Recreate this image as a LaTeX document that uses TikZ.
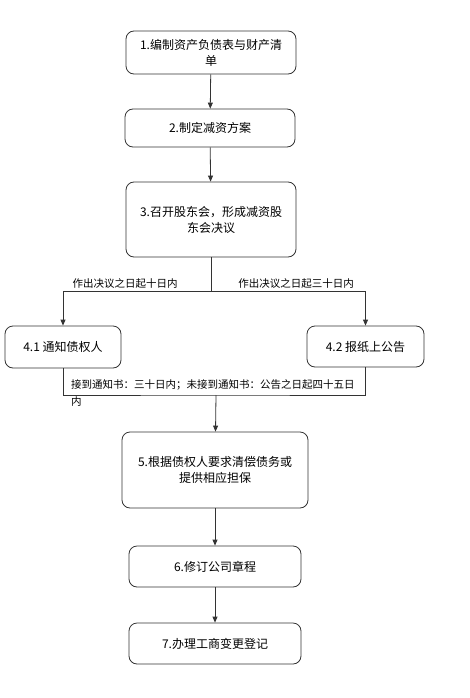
\documentclass[tikz,border=0pt]{standalone}
\usepackage{fontspec}
\setmainfont{Noto Sans CJK SC}
\usetikzlibrary{arrows.meta}

\begin{document}
\begin{tikzpicture}[x=1pt,y=-1pt,
    block/.style={draw=black!80,line width=0.8pt,rounded corners=8pt,align=center,
        inner sep=0pt,font=\fontsize{12}{16}\selectfont},
    note/.style={inner sep=0pt,font=\fontsize{10.5}{17}\selectfont},
    link/.style={draw=black!80,line width=0.8pt},
    arrow/.style={link,-{Triangle[length=6pt,width=5pt]}}]

\useasboundingbox (0,0) rectangle (469,698);

\node[block,minimum width=170pt,minimum height=43pt] (s1) at (211,52.5) {1.编制资产负债表与财产清\\单};
\node[block,minimum width=170pt,minimum height=38pt] (s2) at (210,128) {2.制定减资方案};
\node[block,minimum width=170pt,minimum height=75pt] (s3) at (211,219.5) {3.召开股东会，形成减资股\\东会决议};
\node[block,minimum width=116pt,minimum height=42pt] (s41) at (63,347) {4.1 通知债权人};
\node[block,minimum width=117pt,minimum height=41pt] (s42) at (365.5,346.5) {4.2 报纸上公告};
\node[block,minimum width=186pt,minimum height=76pt] (s5) at (215,470) {5.根据债权人要求清偿债务或\\提供相应担保};
\node[block,minimum width=172pt,minimum height=41pt] (s6) at (215,566.5) {6.修订公司章程};
\node[block,minimum width=172pt,minimum height=41pt] (s7) at (215,643.5) {7.办理工商变更登记};

\coordinate (j1) at (211,291);
\coordinate (j2) at (216,395);

% 1 -> 2 -> 3
\draw[arrow] (s1) -- (s2);
\draw[arrow] (s2) -- (s3);

% 3: split to 4.1 and 4.2
\draw[link] (s3) -- (j1);
\draw[arrow] (j1) -| (s41);
\draw[arrow] (j1) -| (s42);
\node[note,anchor=base] (t41) at (125,287) {作出决议之日起十日内};
\node[note,anchor=base] (t42) at (296,287) {作出决议之日起三十日内};

% 4.1, 4.2: join to 5
\draw[link] (s41) |- (j2) -| (s42);
\draw[arrow] (j2) -- (s5);
\node[note,anchor=north west,align=left] (t5) at (71,379) {接到通知书：三十日内；未接到通知书：公告之日起四十五日\\内};

% 5 -> 6 -> 7
\draw[arrow] (s5) -- (s6);
\draw[arrow] (s6) -- (s7);

\end{tikzpicture}
\end{document}
